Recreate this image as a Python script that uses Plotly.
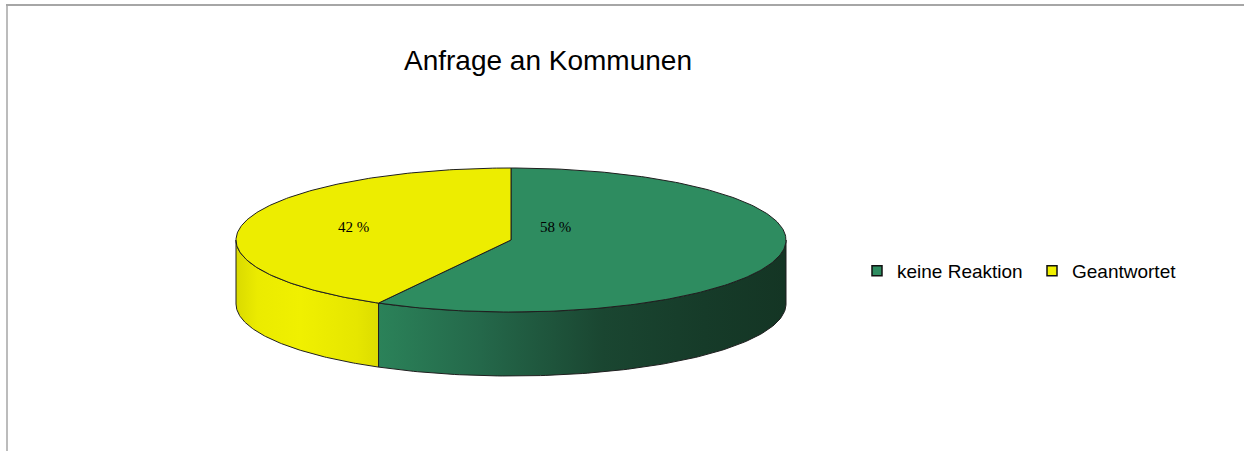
import numpy as np
import plotly.graph_objects as go

# ---- data ----
categories = ["keine Reaktion", "Geantwortet"]
values = [58, 42]
labels_txt = ["58 %", "42 %"]

# ---- style ----
TOP_COLORS = ["#2E8C60", "#EDED00"]
LEGEND_COLORS = ["#2E8C60", "#F0F000"]
SIDE_SCALES = [
    [[0.0, "#2B8259"], [0.25, "#24684A"], [0.55, "#1A4631"], [0.8, "#163B29"], [1.0, "#143524"]],
    [[0.0, "#DADA00"], [0.15, "#EBEB00"], [0.45, "#F0F000"], [0.85, "#E6E600"], [1.0, "#DCDC00"]],
]
OUTLINE = "#1f1f1f"
W, H = 1244, 451
CX, CY, RX, RY, DEPTH = 511, 240, 275, 72, 64
LABEL_POS = [(555, 227), (353, 227)]


def ell(theta_deg, dy=0.0):
    t = np.radians(theta_deg)
    return CX + RX * np.sin(t), CY - RY * np.cos(t) + dy


fig = go.Figure()

total = float(sum(values))
starts, ends = [], []
acc = 0.0
for v in values:
    starts.append(acc / total * 360.0)
    acc += v
    ends.append(acc / total * 360.0)

# side walls (visible front part: 90..270 deg clockwise from top)
for i, (a0, a1) in enumerate(zip(starts, ends)):
    s, e = max(a0, 90.0), min(a1, 270.0)
    if e <= s:
        continue
    th = np.linspace(s, e, 120)
    xt, yt = ell(th)
    xb, yb = ell(th[::-1], DEPTH)
    xs = np.concatenate([xt, xb, xt[:1]])
    ys = np.concatenate([yt, yb, yt[:1]])
    fig.add_trace(go.Scatter(
        x=xs, y=ys, mode="lines", fill="toself",
        fillgradient=dict(type="horizontal", colorscale=SIDE_SCALES[i]),
        line=dict(color=OUTLINE, width=1), hoverinfo="skip", showlegend=False))

# top faces
for i, (a0, a1) in enumerate(zip(starts, ends)):
    th = np.linspace(a0, a1, 200)
    xa, ya = ell(th)
    xs = np.concatenate([[CX], xa, [CX]])
    ys = np.concatenate([[CY], ya, [CY]])
    fig.add_trace(go.Scatter(
        x=xs, y=ys, mode="lines", fill="toself", fillcolor=TOP_COLORS[i],
        line=dict(color=OUTLINE, width=1), hoverinfo="skip", showlegend=False))

# legend entries
for i, name in enumerate(categories):
    fig.add_trace(go.Scatter(
        x=[None], y=[None], mode="markers", name=name,
        marker=dict(symbol="square", size=10, color=LEGEND_COLORS[i],
                    line=dict(color="#111111", width=1.5))))

# labels
for (lx, ly), t in zip(LABEL_POS, labels_txt):
    fig.add_annotation(x=lx, y=ly, text=t, showarrow=False,
                       font=dict(family="Liberation Serif", size=15, color="#000000"),
                       xanchor="center", yanchor="middle")

fig.update_layout(
    width=W, height=H, autosize=False,
    margin=dict(l=0, r=0, t=0, b=0),
    paper_bgcolor="white", plot_bgcolor="white",
    xaxis=dict(range=[0, W], visible=False, fixedrange=True),
    yaxis=dict(range=[H, 0], visible=False, fixedrange=True),
    title=dict(text="Anfrage an Kommunen", x=548 / W, xanchor="center",
               y=1 - 60 / H, yanchor="middle", yref="container",
               font=dict(family="Liberation Sans", size=28, color="#000000")),
    legend=dict(orientation="h", x=857 / W, xanchor="left", y=1 - 271 / H, yanchor="middle",
                font=dict(family="Liberation Sans", size=19, color="#000000"),
                bgcolor="rgba(0,0,0,0)", itemwidth=30, entrywidth=130),
    shapes=[
        dict(type="line", xref="paper", yref="paper", x0=6 / W, x1=1, y0=1 - 5 / H, y1=1 - 5 / H,
             line=dict(color="#A6A6A6", width=2)),
        dict(type="line", xref="paper", yref="paper", x0=7 / W, x1=7 / W, y0=0, y1=1 - 4 / H,
             line=dict(color="#A6A6A6", width=1.5)),
    ],
)

fig.write_html("out.html",
               config={"displayModeBar": False, "staticPlot": True},
               post_script="document.body.style.margin='0px';document.body.style.overflow='hidden';")
